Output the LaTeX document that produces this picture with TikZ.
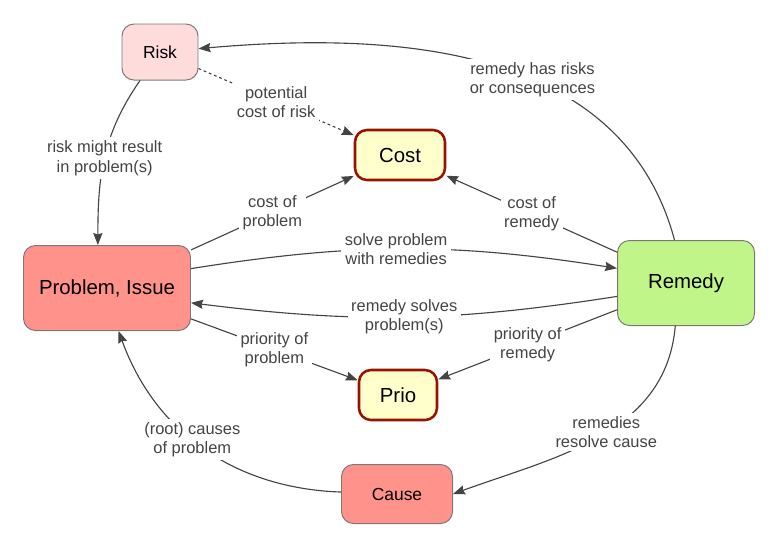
\documentclass[tikz,border=0pt]{standalone}
\usepackage{fontspec}
\setmainfont{Liberation Sans}
\usetikzlibrary{arrows.meta}

\definecolor{riskfill}{HTML}{FFDCDC}
\definecolor{issuefill}{HTML}{FF938C}
\definecolor{remedyfill}{HTML}{C0F58A}
\definecolor{measurefill}{HTML}{FFFFCC}
\definecolor{measureline}{HTML}{991100}
\definecolor{conceptline}{HTML}{7F7777}
\definecolor{edgegray}{HTML}{444444}

\tikzset{
  concept/.style={draw=conceptline, line width=0.7pt, rounded corners=0.3cm,
    text=black, font=\fontsize{14.5}{17}\selectfont},
  smallconcept/.style={concept, font=\fontsize{12.4}{15}\selectfont},
  measure/.style={draw=measureline, line width=1.8pt, fill=measurefill,
    rounded corners=0.3cm, text=black, font=\fontsize{14.5}{17}\selectfont},
  rel/.style={draw=edgegray, line width=0.8pt, -{Stealth[length=8.5pt,width=6.5pt,inset=1pt]}},
  lbl/.style={fill=white, text=edgegray, align=center, inner sep=2.5pt,
    font=\fontsize{11.7}{13.7}\selectfont}
}

\begin{document}
\begin{tikzpicture}
\useasboundingbox (0,0) rectangle (19.55,-13.725);

% concepts
\node[smallconcept, fill=riskfill, minimum width=1.9cm, minimum height=1.4cm] (risk) at (4.0,-1.3) {Risk};
\node[measure, minimum width=2.25cm, minimum height=1.25cm] (cost) at (10.0,-3.875) {Cost};
\node[concept, fill=issuefill, minimum width=4.175cm, minimum height=2.125cm] (problem) at (2.675,-7.2) {Problem, Issue};
\node[concept, fill=remedyfill, minimum width=3.425cm, minimum height=2.125cm] (remedy) at (17.15,-7.075) {Remedy};
\node[measure, minimum width=1.95cm, minimum height=1.25cm] (prio) at (9.95,-9.875) {Prio};
\node[smallconcept, fill=issuefill, minimum width=2.775cm, minimum height=1.475cm] (cause) at (9.925,-12.35) {Cause};

% relations
\draw[rel] (remedy) to[out=105,in=5] node[lbl,pos=0.42] {remedy has risks\\or consequences} (risk);
\draw[rel, dash pattern=on 2pt off 2pt] (risk) -- node[lbl] {potential\\cost of risk} (cost);
\draw[rel] (risk) to[out=235,in=90] node[lbl,pos=0.5] {risk might result\\in problem(s)} (problem.102);
\draw[rel] (problem) -- node[lbl] {cost of\\problem} (cost);
\draw[rel] (remedy) -- node[lbl] {cost of\\remedy} (cost);
\draw[rel] (problem.13) to[bend left=9] node[lbl,pos=0.48] {solve problem\\with remedies} (remedy.168);
\draw[rel] (remedy.191) to[bend left=8] node[lbl] {remedy solves\\problem(s)} (problem.350);
\draw[rel] (problem) -- node[lbl] {priority of\\problem} (prio);
\draw[rel] (remedy) -- node[lbl] {priority of\\remedy} (prio);
\draw[rel] (remedy.256) to[out=265,in=20] node[lbl,pos=0.47] {remedies\\resolve cause} (cause.east);
\draw[rel] (cause) to[out=178,in=290] node[lbl,pos=0.55] {(root) causes\\of problem} (problem.285);
\end{tikzpicture}
\end{document}
